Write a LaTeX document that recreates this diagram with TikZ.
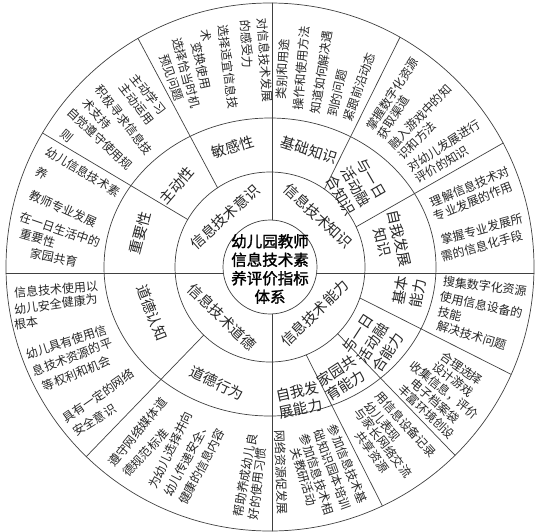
\documentclass[tikz,border=0pt]{standalone}
\usepackage{fontspec}
\setmainfont{Noto Sans CJK SC}[AutoFakeBold=1.5]

\begin{document}
\begin{tikzpicture}[
	x=1pt, y=-1pt,
	line cap=round,
	line join=round,
	ln/.style={line width=0.7pt, draw=black!75},
	lbl/.style={inner sep=0pt, anchor=west, text=black!85, font=\fontsize{12}{14}\selectfont},
	sect/.style={inner sep=0pt, align=center, text=black!85, font=\fontsize{14.5}{17.5}\selectfont},
	core/.style={inner sep=0pt, align=center, text=black, font=\fontsize{15.5}{18.5}\selectfont\bfseries}
	]
	\useasboundingbox (0,0) rectangle (536,531);
	
	% Wheel: rings and dividing lines (y points down, so angles turn clockwise)
	\begin{scope}[shift={(270,267)}]
		\draw[ln] (0,0) circle[radius=264];
		\draw[ln] (0,0) ellipse[x radius=166, y radius=149];
		\draw[ln] (0,0) circle[radius=95];
		\draw[ln] (0,0) circle[radius=47];
		
		% the four quarters
		\foreach \s in {-1,1} {
			\draw[ln] (2,\s*46.96) -- (2,\s*263.99);
			\draw[ln] (\s*46.6,6) -- (\s*263.9,6);
		}
		
		% sub-sections, middle ring to rim
		\foreach \a/\b in {-123.5/-120, -150/-149.5, -55/-60.5, -25/-28,
			19/24, 44.6/45.5, 67.6/64.8, 134.2/134.1}
		\draw[ln] (\a:95) -- (\b:264);
	\end{scope}
	
	% Centre
	\node[core] (core) at (270,269) {幼儿园教师\\信息技术素\\养评价指标\\体系};
	
	% Inner ring
	\node[sect, rotate=42] (yishi) at (225,217) {信息技术意识};
	\node[sect, rotate=-43] (zhishi) at (318,216) {信息技术知识};
	\node[sect, rotate=44] (nengli) at (315,313) {信息技术能力};
	\node[sect, rotate=-44] (daode) at (222,317) {信息技术道德};
	
	% Middle ring
	\node[sect, rotate=17] (mgx) at (233,147) {敏感性};
	\node[sect, rotate=49] (zdx) at (177,185) {主动性};
	\node[sect, rotate=75] (zyx) at (140,233) {重要性};
	\node[sect, rotate=-18] (jczs) at (309,150) {基础知识};
	\node[sect, rotate=-60] (rhzs) at (356,187) {与一日\\活动融\\合知识};
	\node[sect, rotate=-77] (fzzs) at (391,240) {自我发展\\知识};
	\node[sect, rotate=80] (jbnl) at (409,292) {基本\\能力};
	\node[sect, rotate=57] (rhnl) at (373,343) {与一日\\活动融\\合能力};
	\node[sect, rotate=33] (jynl) at (341,378) {家园共\\育能力};
	\node[sect, rotate=12] (fznl) at (299,400) {自我发\\展能力};
	\node[sect, rotate=-69] (ddrz) at (152,313) {道德认知};
	\node[sect, rotate=-25] (ddxw) at (217,383) {道德行为};
	
	% Outer ring: 信息技术意识
	\foreach \x/\y/\r/\t [count=\i] in {
		262/18/-86/对信息技术发展, 245/20/-86/的感受力,
		223/25/-83/选择适宜信息技, 205/30/-80/术,
		196/42/-77/变换使用, 177/38/-75/选择恰当时机,
		164/55/-71/预见问题,
		133/75/-51/主动学习, 122/85/-52/主动运用,
		98/87/-52/积极寻求信息技, 85/100/-48/术支持,
		69/110/-43/自觉遵守使用规, 62/132/-40/则,
		47/150/-31/幼儿信息技术素, 36/170/-28/养,
		30/194/-24/教师专业发展, 20/216/-19/在一日生活中的,
		20/233/-16/重要性, 30/253/-11/家园共育}
	\node[lbl, rotate=\r] (ys\i) at (\x,\y) {\t};
	
	% Outer ring: 信息技术知识
	\foreach \x/\y/\r/\t [count=\i] in {
		281/99/87/类别和用途, 298/110/85/操作和使用方法,
		315/114/81/知道如何解决遇, 332/117/77/到的问题,
		347/121/70/紧跟前沿动态,
		369.4/129.1/57/掌握数字化资源, 380.4/137.7/57/获取渠道,
		390.6/147.2/46/融入游戏中的知, 400/157.5/45/识和方法,
		408.6/168.5/33/对幼儿发展进行, 416.1/180.2/31/评价的知识,
		431/203/23/理解信息技术对, 434/217/22/专业发展的作用,
		441/240/15/掌握专业发展所, 441/257/15/需的信息化手段}
	\node[lbl, rotate=\r] (zs\i) at (\x,\y) {\t};
	
	% Outer ring: 信息技术能力
	\foreach \x/\y/\r/\t [count=\i] in {
		443/281/-7/搜集数字化资源, 440/296/-12/使用信息设备的,
		438/311/-14/技能, 437/325/-17/解决技术问题,
		441.9/354.4/-35/合理选择, 433.6/364.7/-37/设计游戏,
		411.4/363.6/-39/收集信息，评价, 412.6/381.2/-41/电子档案袋,
		400.1/387.2/-43/丰富环境创设,
		377.8/393.1/-48/用信息设备记录, 367/403/-50/幼儿表现,
		357.5/409.5/-52/与家长网络交流, 358/432.3/-54/共享资源,
		332/425/-68/参加信息技术基, 318/430/-70/础知识园本培训,
		304/434/-72/参加信息技术相, 295/448/-73/关教研活动,
		279.5/430/-88/网络资源促发展}
	\node[lbl, rotate=\r] (nl\i) at (\x,\y) {\t};
	
	% Outer ring: 信息技术道德
	\foreach \x/\y/\r/\t [count=\i] in {
		14/293/5/信息技术使用以, 14/310/8/幼儿安全健康为,
		14/325/8/根本,
		26/355/18/幼儿具有使用信, 33/372/21/息技术资源的平,
		43/387/22/等权利和机会,
		64/420/35/具有一定的网络, 74/433/32/安全意识,
		111/465/51/遵守网络媒体道, 125/475/47/德规范标准,
		152/488/64/为幼儿选择并向, 167/496/62/幼儿传递安全、,
		182/504/62/健康的信息内容,
		238/517/80/帮助养成幼儿良, 253/520/83/好的使用习惯}
	\node[lbl, rotate=\r] (dd\i) at (\x,\y) {\t};
\end{tikzpicture}
\end{document}
